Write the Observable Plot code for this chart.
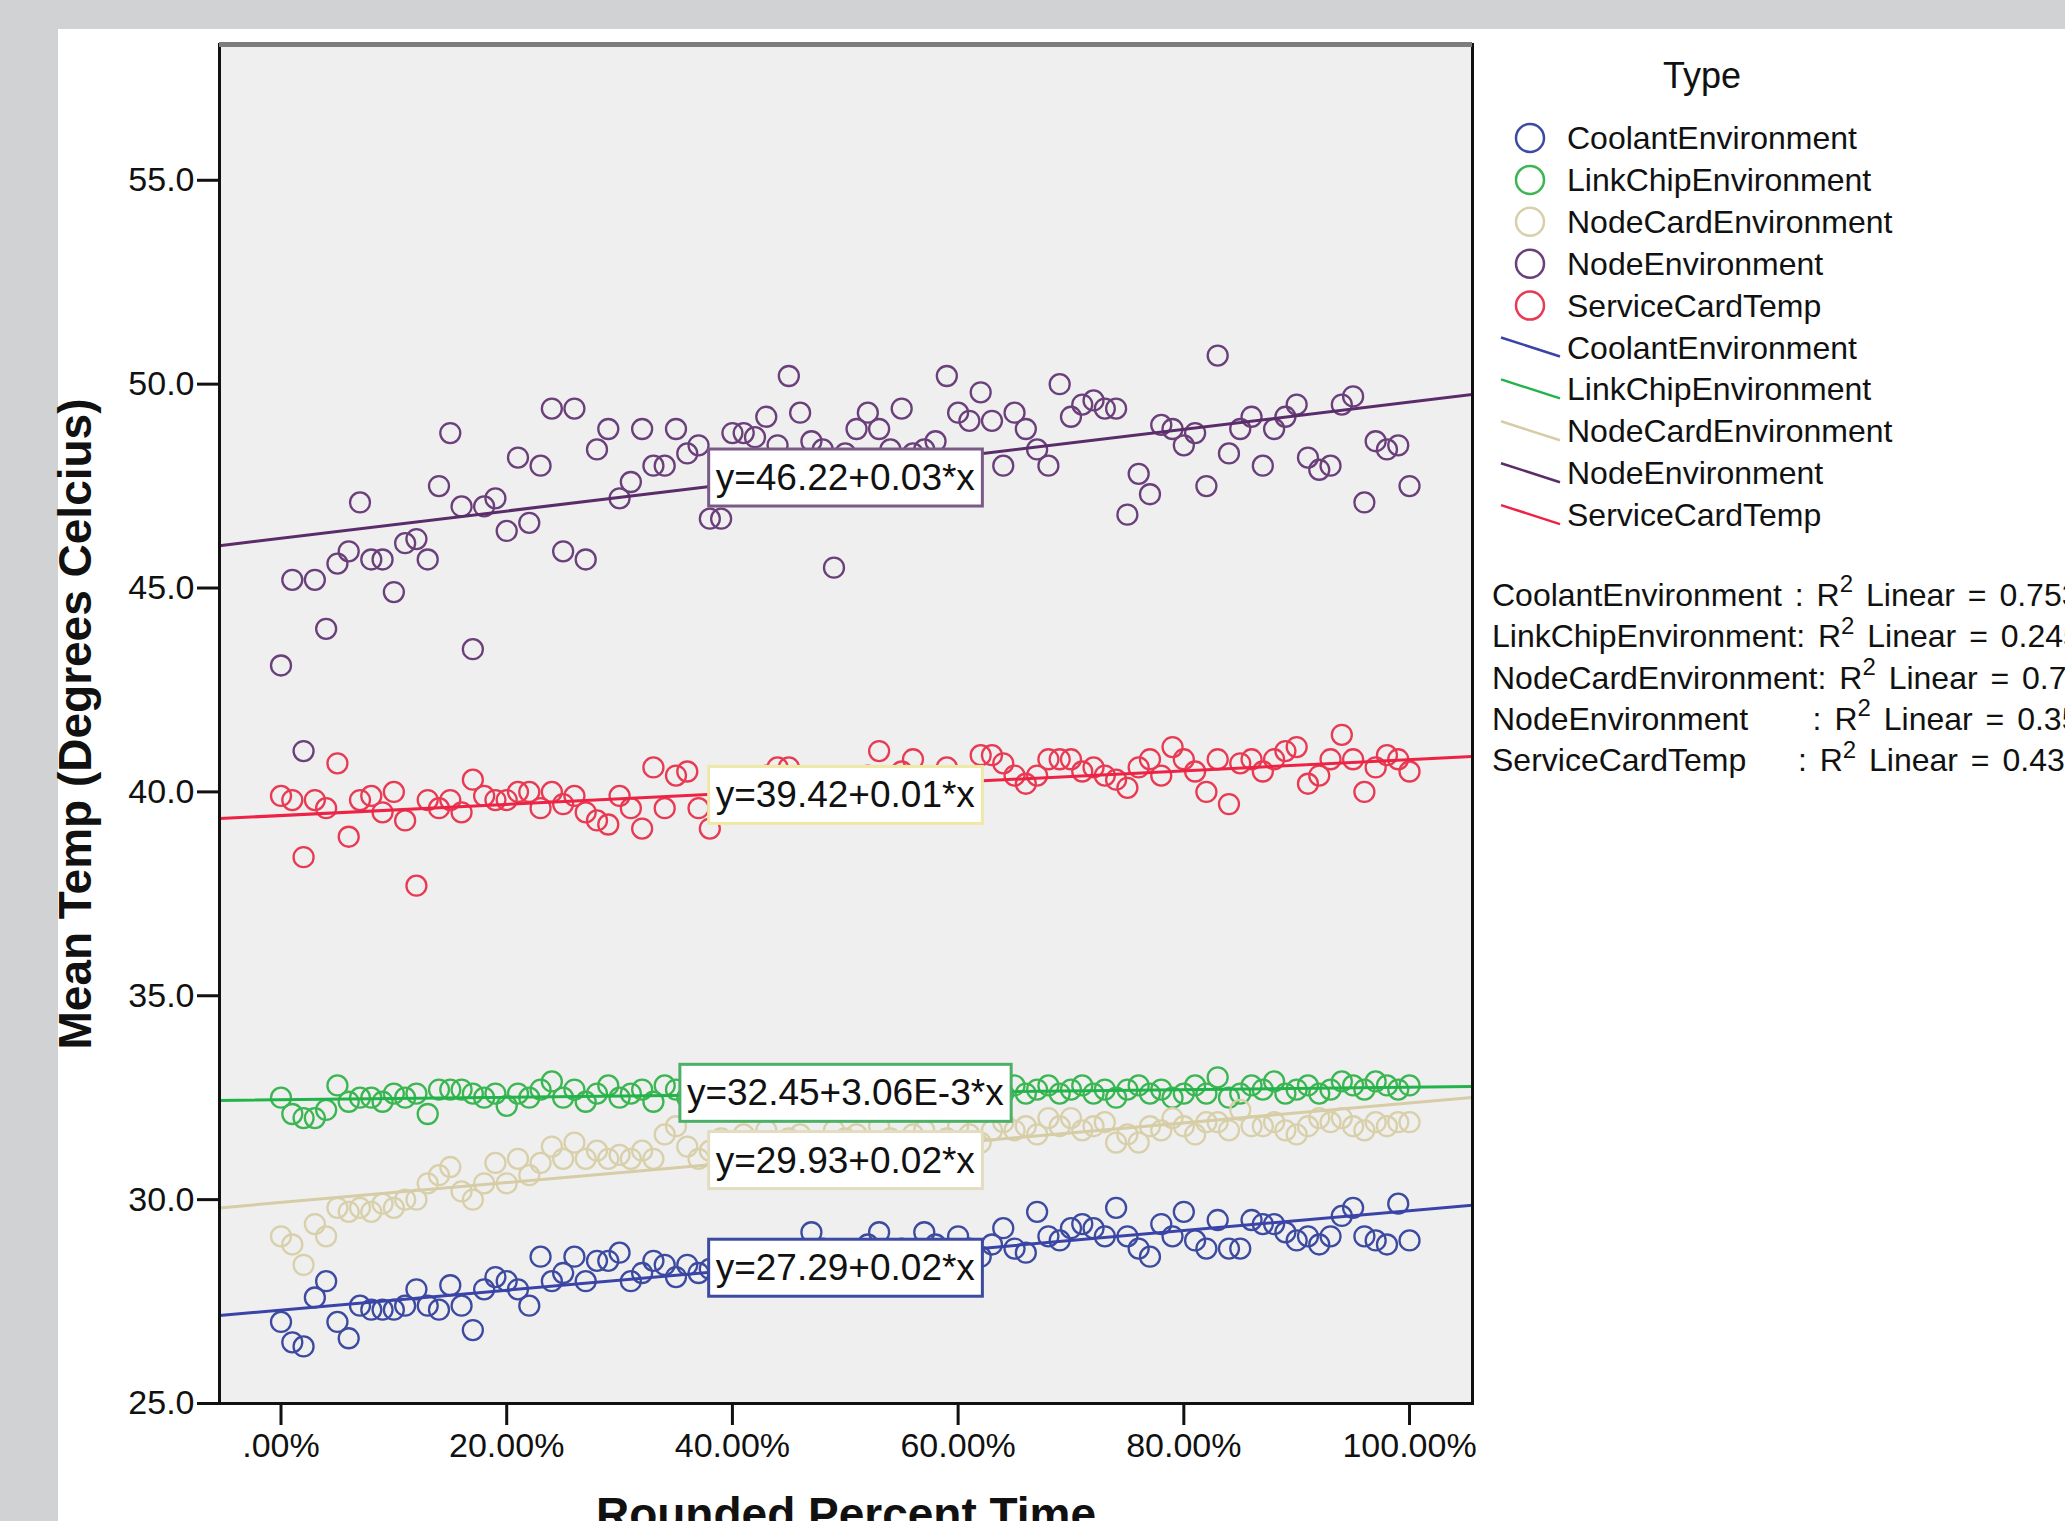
<!DOCTYPE html>
<html><head><meta charset="utf-8">
<script src="https://cdn.jsdelivr.net/npm/d3@7"></script>
<script src="https://cdn.jsdelivr.net/npm/@observablehq/plot@0.6"></script>
<style>
html,body{margin:0;padding:0;width:2065px;height:1521px;overflow:hidden;background:#d1d2d4;}
#panel{position:absolute;left:58px;top:29px;right:0;bottom:0;background:#fff;}
#chart{position:absolute;left:0;top:0;}
.leg{position:absolute;font-family:"Liberation Sans",Arial,sans-serif;color:#111;white-space:pre;}
.leg sup{font-size:24px;line-height:0;position:relative;top:-2px;}
.r2{word-spacing:4px;}
</style></head><body>
<div id="panel"></div><div id="chart"></div><div id="legend"></div>
<script>
// ---------- data ----------
const types = ["CoolantEnvironment","LinkChipEnvironment","NodeCardEnvironment","NodeEnvironment","ServiceCardTemp"];
const percent = d3.range(0, 101); // Rounded Percent Time, 0..100

const coolant = [27.0,26.5,26.4,27.6,28.0,27.0,26.6,27.4,27.3,27.3,
  27.3,27.4,27.8,27.4,27.3,27.9,27.4,26.8,27.8,28.1,
  28.0,27.8,27.4,28.6,28.0,28.2,28.6,28.0,28.5,28.5,
  28.7,28.0,28.2,28.5,28.4,28.1,28.4,28.2,28.3,28.5,
  28.2,28.6,28.4,28.7,28.5,28.3,28.6,29.2,28.8,28.5,
  28.7,28.4,28.9,29.2,28.6,28.8,28.5,29.2,28.9,28.7,
  29.1,28.8,28.6,28.9,29.3,28.8,28.7,29.7,29.1,29.0,
  29.3,29.4,29.3,29.1,29.8,29.1,28.8,28.6,29.4,29.1,
  29.7,29.0,28.8,29.5,28.8,28.8,29.5,29.4,29.4,29.2,
  29.0,29.1,28.9,29.1,29.6,29.8,29.1,29.0,28.9,29.9,29.0];
const linkChip = [32.5,32.1,32.0,32.0,32.2,32.8,32.4,32.5,32.5,32.4,
  32.6,32.5,32.6,32.1,32.7,32.7,32.7,32.6,32.5,32.6,
  32.3,32.6,32.5,32.7,32.9,32.5,32.7,32.4,32.6,32.8,
  32.5,32.6,32.7,32.4,32.8,32.7,32.5,32.9,32.6,32.7,
  32.5,32.6,32.8,32.6,32.7,32.5,32.6,32.7,32.6,32.8,
  32.6,32.7,32.5,32.6,32.7,32.6,32.8,32.7,32.6,32.5,
  32.7,32.6,32.8,32.7,32.6,32.8,32.6,32.7,32.8,32.6,
  32.7,32.8,32.6,32.7,32.5,32.7,32.8,32.6,32.7,32.5,
  32.6,32.8,32.6,33.0,32.5,32.6,32.8,32.7,32.9,32.6,
  32.7,32.8,32.6,32.7,32.9,32.8,32.7,32.9,32.8,32.7,32.8];
const nodeCard = [29.1,28.9,28.4,29.4,29.1,29.8,29.7,29.8,29.7,29.9,
  29.8,30.0,30.0,30.4,30.6,30.8,30.2,30.0,30.4,30.9,
  30.4,31.0,30.6,30.9,31.3,31.0,31.4,31.0,31.2,31.0,
  31.1,31.0,31.2,31.0,31.6,31.8,31.3,31.0,31.2,31.5,
  31.3,31.6,31.4,31.7,31.3,31.5,31.6,31.4,31.2,31.7,
  31.5,31.6,31.3,31.8,31.5,31.4,31.6,31.7,31.3,31.5,
  31.8,31.6,31.4,31.7,31.9,31.7,31.8,31.6,32.0,31.8,
  32.0,31.7,31.8,31.9,31.4,31.6,31.4,31.8,31.7,32.0,
  31.8,31.6,31.9,31.9,31.7,32.2,31.8,31.8,31.9,31.7,
  31.6,31.8,32.0,31.9,32.0,31.8,31.7,31.9,31.8,31.9,31.9];
const nodeEnv = [43.1,45.2,41.0,45.2,44.0,45.6,45.9,47.1,45.7,45.7,
  44.9,46.1,46.2,45.7,47.5,48.8,47.0,43.5,47.0,47.2,
  46.4,48.2,46.6,48.0,49.4,45.9,49.4,45.7,48.4,48.9,
  47.2,47.6,48.9,48.0,48.0,48.9,48.3,48.5,46.7,46.7,
  48.8,48.8,48.7,49.2,48.5,50.2,49.3,48.6,48.4,45.5,
  48.3,48.9,49.3,48.9,48.4,49.4,48.3,48.4,48.6,50.2,
  49.3,49.1,49.8,49.1,48.0,49.3,48.9,48.4,48.0,50.0,
  49.2,49.5,49.6,49.4,49.4,46.8,47.8,47.3,49.0,48.9,
  48.5,48.8,47.5,50.7,48.3,48.9,49.2,48.0,48.9,49.2,
  49.5,48.2,47.9,48.0,49.5,49.7,47.1,48.6,48.4,48.5,47.5];
const serviceCard = [39.9,39.8,38.4,39.8,39.6,40.7,38.9,39.8,39.9,39.5,
  40.0,39.3,37.7,39.8,39.6,39.8,39.5,40.3,39.9,39.8,
  39.8,40.0,40.0,39.6,40.0,39.7,39.9,39.5,39.3,39.2,
  39.9,39.6,39.1,40.6,39.6,40.4,40.5,39.6,39.1,40.0,
  39.8,40.2,39.9,40.4,40.6,40.6,40.1,39.8,40.3,40.0,
  40.2,39.9,40.4,41.0,40.1,40.5,40.8,40.2,40.0,40.6,
  40.3,40.1,40.9,40.9,40.7,40.4,40.2,40.4,40.8,40.8,
  40.8,40.5,40.6,40.4,40.3,40.1,40.6,40.8,40.4,41.1,
  40.8,40.5,40.0,40.8,39.7,40.7,40.8,40.5,40.8,41.0,
  41.1,40.2,40.4,40.8,41.4,40.8,40.0,40.6,40.9,40.8,40.5];
const seriesValues = [coolant, linkChip, nodeCard, nodeEnv, serviceCard];

// fit lines (intercept from the printed equation, slope)
const intercepts = [27.29, 32.45, 29.93, 46.22, 39.42];
const slopes = [0.0244, 0.00306, 0.0244, 0.0334, 0.0137];
const eqLabels = ["y=27.29+0.02*x", "y=32.45+3.06E-3*x", "y=29.93+0.02*x", "y=46.22+0.03*x", "y=39.42+0.01*x"];
const r2Names = ["CoolantEnvironment ", "LinkChipEnvironment", "NodeCardEnvironment", "NodeEnvironment     ", "ServiceCardTemp    "];
const r2Values = ["0.753", "0.245", "0.741", "0.351", "0.430"];

const yTicks = [25, 30, 35, 40, 45, 50, 55];
const yTickLabels = ["25.0", "30.0", "35.0", "40.0", "45.0", "50.0", "55.0"];
const xTicks = [0, 20, 40, 60, 80, 100];
const xTickLabels = [".00%", "20.00%", "40.00%", "60.00%", "80.00%", "100.00%"];
const xTitle = "Rounded Percent Time";
const yTitle = "Mean Temp (Degrees Celcius)";
const legendTitle = "Type";

// ---------- styles ----------
const dotColors = ["#3c4aa0", "#3cb652", "#d8d0aa", "#6a3f7a", "#e83a52"];
const lineColors = ["#3a43a8", "#22b34a", "#d6cca6", "#5a2c6a", "#ee2244"];
const boxColors = ["#3c4aa0", "#4cb066", "#e2ddc0", "#7a5a86", "#efe9a8"];
const labelShift = [8, 0, 8, 8, 8];
const xDomain = [-5.45, 105.58];
const yDomain = [25, 58.33];
const FONT = "'Liberation Sans', Arial, sans-serif";

const lineRows = types.flatMap((t, k) => xDomain.map(x => ({type: t, k, x, y: intercepts[k] + slopes[k] * x})));
const labelRows = types.map((t, k) => ({type: t, k, x: 50, y: intercepts[k] + slopes[k] * 50, text: eqLabels[k]}));

const dotMarks = seriesValues.map((vals, k) =>
  Plot.dot(vals.map((v, i) => ({x: percent[i], y: v})), {x: "x", y: "y", r: 10, stroke: dotColors[k], strokeWidth: 2.3, fill: "none"}));
const lineMarks = types.map((t, k) =>
  Plot.line(lineRows.filter(d => d.k === k), {x: "x", y: "y", stroke: lineColors[k], strokeWidth: 3, clip: true}));
const labelMarks = types.map((t, k) =>
  Plot.text(labelRows.filter(d => d.k === k), {x: "x", y: "y", text: "text", dy: labelShift[k], fill: "#111", fontSize: 37, className: "eqlabel"}));

const plot = Plot.plot({
  width: 2065, height: 1521,
  marginLeft: 219, marginRight: 593, marginTop: 44, marginBottom: 118,
  x: {domain: xDomain},
  y: {domain: yDomain},
  style: {background: "transparent", fontFamily: FONT, overflow: "visible", maxWidth: "none"},
  marks: [
    Plot.frame({fill: "#efefef", stroke: null}),
    ...dotMarks,
    ...lineMarks,
    ...labelMarks,
    Plot.axisY({ticks: yTicks, tickFormat: d => yTickLabels[yTicks.indexOf(d)], tickSize: 22, tickPadding: 3, fontSize: 34, strokeWidth: 3, color: "#111", label: null}),
    Plot.axisX({ticks: xTicks, tickFormat: d => xTickLabels[xTicks.indexOf(d)], tickSize: 22, tickPadding: 7, fontSize: 34, strokeWidth: 3, color: "#111", label: null}),
    Plot.frame({stroke: "#111", strokeWidth: 3}),
    Plot.ruleY([yDomain[1]], {stroke: "#7d7d7d", strokeWidth: 5}),
    Plot.text([yTitle], {frameAnchor: "left", textAnchor: "middle", lineAnchor: "middle", dx: -143, rotate: -90, text: d => d, fontSize: 46, fontWeight: "bold", fill: "#111"}),
    Plot.text([xTitle], {frameAnchor: "bottom", textAnchor: "middle", lineAnchor: "middle", dy: 112, text: d => d, fontSize: 46, fontWeight: "bold", fill: "#111"})
  ]
});
document.getElementById("chart").append(plot);

// white boxes behind the equation labels
const ns = "http://www.w3.org/2000/svg";
let eqTexts = Array.from(plot.querySelectorAll("text")).filter(t => eqLabels.includes(t.textContent));
eqTexts.forEach(t => {
  const k = eqLabels.indexOf(t.textContent);
  const b = t.getBBox();
  const r = document.createElementNS(ns, "rect");
  r.setAttribute("x", b.x - 7); r.setAttribute("y", b.y - 8);
  r.setAttribute("width", b.width + 14); r.setAttribute("height", b.height + 16);
  r.setAttribute("fill", "#fff"); r.setAttribute("stroke", boxColors[k]); r.setAttribute("stroke-width", 3);
  if (t.getAttribute("transform")) r.setAttribute("transform", t.getAttribute("transform"));
  t.parentNode.insertBefore(r, t);
});

// ---------- legend ----------
const leg = document.getElementById("legend");
function addText(html, left, cy, size, extra, cls) {
  const d = document.createElement("div");
  d.className = "leg" + (cls ? " " + cls : "");
  d.style.left = left + "px";
  d.style.top = (cy - 25) + "px";
  d.style.lineHeight = "50px";
  d.style.fontSize = size + "px";
  if (extra) Object.assign(d.style, extra);
  d.innerHTML = html;
  leg.append(d);
}
addText(legendTitle, 1652, 76, 36, {width: "100px", textAlign: "center"});
const symSvg = d3.create("svg").attr("width", 80).attr("height", 560)
  .style("position", "absolute").style("left", "1490px").style("top", "0px");
const rowY = i => 138 + 41.9 * i;
types.forEach((t, k) => {
  symSvg.append("circle").attr("cx", 40).attr("cy", rowY(k)).attr("r", 14)
    .attr("fill", "none").attr("stroke", dotColors[k]).attr("stroke-width", 2.5);
  addText(t, 1567, rowY(k), 32);
});
types.forEach((t, k) => {
  const cy = rowY(k + 5);
  symSvg.append("line").attr("x1", 11).attr("y1", cy - 10).attr("x2", 70).attr("y2", cy + 9)
    .attr("stroke", lineColors[k]).attr("stroke-width", 2.5);
  addText(t, 1567, cy, 32);
});
leg.append(symSvg.node());
types.forEach((t, k) => {
  addText(`${r2Names[k]}: R<sup>2</sup> Linear = ${r2Values[k]}`, 1492, 595 + 41.3 * k, 32, null, "r2");
});
</script>
</body></html>
